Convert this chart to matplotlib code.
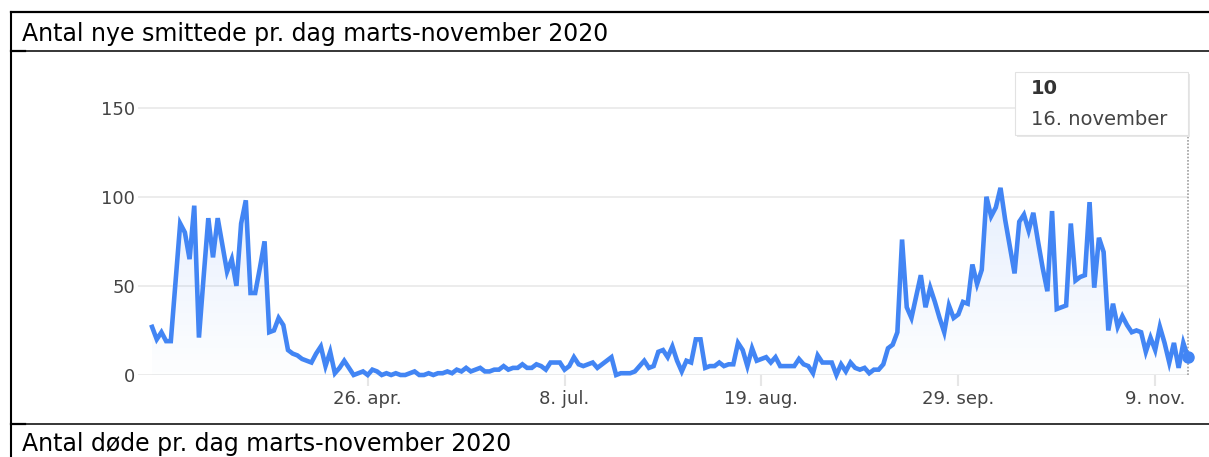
import matplotlib.pyplot as plt
import numpy as np
from matplotlib.lines import Line2D
from matplotlib.patches import Rectangle

# Daglige nye smittede, 11. marts - 16. november 2020
cases = [27, 20, 24, 19, 19, 52, 85, 80, 65, 95, 21, 55, 88, 66, 88, 73, 58, 65, 50, 85,
         98, 46, 46, 60, 75, 24, 25, 32, 28, 14, 12, 11, 9, 8, 7, 12, 16, 5, 13, 1,
         4, 8, 4, 0, 1, 2, 0, 3, 2, 0, 1, 0, 1, 0, 0, 1, 2, 0, 0, 1,
         0, 1, 1, 2, 1, 3, 2, 4, 2, 3, 4, 2, 2, 3, 3, 5, 3, 4, 4, 6,
         4, 4, 6, 5, 3, 7, 7, 7, 3, 5, 10, 6, 5, 6, 7, 4, 6, 8, 10, 0,
         1, 1, 1, 2, 5, 8, 4, 5, 13, 14, 10, 16, 8, 2, 8, 7, 20, 20, 4, 5,
         5, 7, 5, 6, 6, 18, 14, 5, 15, 8, 9, 10, 7, 10, 5, 5, 5, 5, 9, 6,
         5, 1, 11, 7, 7, 7, 0, 6, 2, 7, 4, 3, 4, 1, 3, 3, 6, 15, 17, 24,
         76, 38, 32, 44, 56, 38, 49, 41, 32, 24, 39, 32, 34, 41, 40, 62, 51, 59, 100, 89,
         94, 105, 87, 72, 57, 86, 90, 81, 91, 75, 60, 47, 92, 37, 38, 39, 85, 53, 55, 56,
         97, 49, 77, 69, 25, 40, 27, 33, 28, 24, 25, 24, 13, 21, 14, 27, 18, 7, 18, 4,
         18, 10]
tick_pos = [46, 88, 130, 172, 214]
tick_labels = ["26. apr.", "8. jul.", "19. aug.", "29. sep.", "9. nov."]
y_ticks = [0, 50, 100, 150]
title_top = "Antal nye smittede pr. dag marts-november 2020"
title_bottom = "Antal døde pr. dag marts-november 2020"
tip_value = "10"
tip_date = "16. november"

W, H = 1209, 457
blue = "#4285F4"

def fx(x):
    return x / W

def fy(y):
    return 1 - y / H

fig = plt.figure(figsize=(W / 100, H / 100), dpi=100)
ax = fig.add_axes([fx(138), fy(375), fx(1188) - fx(138), fy(72) - fy(375)])

x = np.arange(len(cases))
y = np.array(cases)

# Gradient-fyld under kurven
poly = ax.fill_between(x, y, 0, color="none", lw=0)
grad = np.zeros((256, 1, 4))
grad[..., :3] = (0x42 / 255, 0x85 / 255, 0xF4 / 255)
grad[..., 3] = np.linspace(0.01, 0.14, 256).reshape(-1, 1)
im = ax.imshow(grad, extent=[0, len(cases) - 1, 0, 110], origin="lower",
               aspect="auto", zorder=1, interpolation="bilinear")
im.set_clip_path(poly.get_paths()[0], transform=ax.transData)

ax.plot(x, y, color=blue, lw=3.3, solid_joinstyle="miter", zorder=3, clip_on=False)
ax.plot(x[-1], y[-1], "o", color=blue, ms=8, zorder=4, clip_on=False)

ax.set_xlim(-3, len(cases) - 1)
ax.set_ylim(0, 170)

# hover-linje
ax.plot([x[-1], x[-1]], [0, 170], color="#9e9e9e", lw=1.2, ls=(0, (1, 1)),
        zorder=2, clip_on=False)

ax.set_yticks(y_ticks)
ax.set_yticklabels([str(v) for v in y_ticks])
ax.set_xticks(tick_pos)
ax.set_xticklabels(tick_labels)
ax.grid(axis="y", color="#ebebeb", lw=1.3, zorder=0)
ax.set_axisbelow(True)
for s in ax.spines.values():
    s.set_visible(False)
ax.tick_params(axis="y", length=0, pad=2, labelsize=13, labelcolor="#444444")
ax.tick_params(axis="x", length=8, width=1.5, color="#e6e6e6", pad=3,
               labelsize=13, labelcolor="#444444")

# Tooltip
fig.add_artist(Rectangle((fx(1017), fy(137)), fx(1190) - fx(1017), fy(74) - fy(137),
                         transform=fig.transFigure, facecolor="#e8e8e8",
                         edgecolor="none", zorder=5))
fig.add_artist(Rectangle((fx(1015), fy(135)), fx(1188) - fx(1015), fy(72) - fy(135),
                         transform=fig.transFigure, facecolor="white",
                         edgecolor="#e2e2e2", lw=0.8, zorder=6))
fig.text(fx(1031), fy(89), tip_value, fontsize=14, fontweight="bold", color="#333333",
         va="center", ha="left", zorder=7)
fig.text(fx(1031), fy(119), tip_date, fontsize=14, color="#444444",
         va="center", ha="left", zorder=7)

# Tabel-rammer
def hline(yp, lw, x0=11, x1=W):
    fig.add_artist(Line2D([fx(x0), fx(x1)], [fy(yp), fy(yp)], color="black", lw=lw,
                          transform=fig.transFigure))

hline(12, 1.6)
hline(51, 1.1)
hline(51, 1.6, 11, 25)
hline(424, 1.1)
hline(424, 1.6, 11, 25)
fig.add_artist(Line2D([fx(11), fx(11)], [fy(12), fy(H)], color="black", lw=1.5,
                      transform=fig.transFigure))

fig.text(fx(22), fy(34), title_top, fontsize=17, family="DejaVu Sans",
         va="center", ha="left", color="black")
fig.text(fx(22), fy(444), title_bottom, fontsize=17, family="DejaVu Sans",
         va="center", ha="left", color="black")

fig.savefig("out.png", dpi=100)
